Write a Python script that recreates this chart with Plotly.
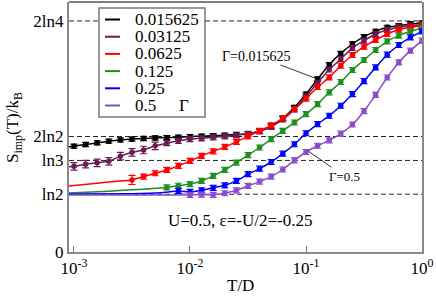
import plotly.graph_objects as go
import math

# ---------------- data ----------------
# marker grid: log10(T/D)
logT = [-3.0, -2.9, -2.8, -2.7, -2.6, -2.5, -2.4, -2.3, -2.2, -2.1, -2.0,
        -1.9, -1.8, -1.7, -1.6, -1.5, -1.4, -1.3, -1.2, -1.1, -1.0,
        -0.9, -0.8, -0.7, -0.6, -0.5, -0.4, -0.3, -0.2, -0.1, 0.0]

gamma_labels = ["0.015625", "0.03125", "0.0625", "0.125", "0.25", "0.5"]
colors = ["#000000", "#6b1a55", "#ff0000", "#1f8f1f", "#0000ff", "#8a4cc8"]

S_g0015625 = [1.27, 1.29, 1.31, 1.33, 1.345, 1.355, 1.362, 1.368, 1.373, 1.377, 1.385,
              1.39, 1.396, 1.402, 1.41, 1.42, 1.45, 1.51, 1.605, 1.734, 1.895,
              2.076, 2.248, 2.383, 2.496, 2.584, 2.648, 2.696, 2.716, 2.737, 2.749]
S_g003125 = [1.028, 1.054, 1.07, 1.088, 1.15, 1.196, 1.224, 1.274, 1.306, 1.334, 1.355,
             1.364, 1.376, 1.388, 1.4, 1.418, 1.448, 1.502, 1.59, 1.71, 1.863,
             2.03, 2.19, 2.316, 2.45, 2.536, 2.616, 2.664, 2.696, 2.716, 2.728]
S_g00625 = [None, None, None, None, None, 0.865, 0.905, 0.945, 0.985, 1.033, 1.093,
            1.154, 1.208, 1.262, 1.322, 1.388, 1.454, 1.52, 1.605, 1.713, 1.84,
            1.98, 2.095, 2.236, 2.364, 2.464, 2.544, 2.616, 2.668, 2.696, 2.716]
S_g0125 = [None, None, None, None, None, None, None, None, 0.775, 0.795, 0.815,
           0.853, 0.913, 0.986, 1.073, 1.162, 1.254, 1.355, 1.454, 1.554, 1.655,
           1.775, 1.915, 2.04, 2.184, 2.304, 2.424, 2.528, 2.596, 2.648, 2.688]
S_g025 = [None, None, None, None, None, None, None, None, None, 0.733, 0.721,
          0.74, 0.77, 0.80, 0.853, 0.934, 1.0, 1.08, 1.18, 1.293, 1.425,
          1.535, 1.635, 1.755, 1.895, 2.05, 2.215, 2.368, 2.484, 2.576, 2.648]
S_g05 = [None, None, None, None, None, None, None, None, None, None, 0.686,
         0.688, 0.686, 0.705, 0.74, 0.793, 0.845, 0.905, 0.99, 1.10, 1.20,
         1.275, 1.34, 1.42, 1.53, 1.69, 1.885, 2.094, 2.275, 2.416, 2.536]

# error bar half-heights
err_g0015625 = [0.025] * 31
err_g003125 = [0.045] * 8 + [0.03] * 23
err_g00625 = [None] * 5 + [0.055] + [0.03] * 25
err_g0125 = [None] * 8 + [0.03] * 23
err_g025 = [None] * 9 + [0.03] * 22
err_g05 = [None] * 10 + [0.03] * 21

# smooth curves extend to the left edge of the window
left_logT = {
    0: [-3.05],
    1: [-3.05],
    2: [-3.05, -2.8, -2.65],
    3: [-3.05, -2.7, -2.45],
    4: [-3.05, -2.5, -2.25],
    5: [-3.05, -2.5, -2.2],
}
left_S = {
    0: [1.262],
    1: [1.022],
    2: [0.79, 0.825, 0.847],
    3: [0.709, 0.73, 0.75],
    4: [0.697, 0.70, 0.712],
    5: [0.684, 0.684, 0.685],
}

series_S = [S_g0015625, S_g003125, S_g00625, S_g0125, S_g025, S_g05]
series_err = [err_g0015625, err_g003125, err_g00625, err_g0125, err_g025, err_g05]

ref_vals = [math.log(2), math.log(3), 2 * math.log(2), 2 * math.log(4)]
ytick_vals = [0, math.log(2), math.log(3), 2 * math.log(2), 2 * math.log(4)]
ytick_text = ["0", "ln2", "ln3", "2ln2", "2ln4"]
xtick_vals = [1e-3, 1e-2, 1e-1, 1]
xtick_text = ["10<sup>-3</sup>", "10<sup>-2</sup>", "10<sup>-1</sup>", "10<sup>0</sup>"]

# ---------------- figure ----------------
W, H = 436, 298
L, R, T, B = 69, 14, 2, 46
PW, PH = W - L - R, H - T - B
FONT = "Liberation Serif"


def px2paper(x, y):
    return (x - L) / PW, (H - B - y) / PH


fig = go.Figure()

for i, (S, err) in enumerate(zip(series_S, series_err)):
    xs = [10 ** v for v, s in zip(logT, S) if s is not None]
    ys = [s for s in S if s is not None]
    es = [e for e, s in zip(err, S) if s is not None]
    lx = [10 ** v for v in left_logT[i]] + xs
    ly = left_S[i] + ys
    fig.add_trace(go.Scatter(x=lx, y=ly, mode="lines",
                             line=dict(color=colors[i], width=1.5, shape="spline", smoothing=0.5),
                             showlegend=False, hoverinfo="skip"))
    fig.add_trace(go.Scatter(x=xs, y=ys, mode="markers",
                             marker=dict(color=colors[i], size=5.5),
                             error_y=dict(type="data", array=es, color=colors[i],
                                          thickness=1.2, width=3.5),
                             showlegend=False, name=gamma_labels[i]))

shapes = []
for v in ref_vals:
    shapes.append(dict(type="line", xref="paper", x0=0, x1=1, yref="y", y0=v, y1=v,
                       line=dict(color="#222222", width=1, dash="5px,3px"), layer="below"))
# top frame line
shapes.append(dict(type="line", xref="paper", x0=0, x1=1, yref="paper", y0=1, y1=1,
                   line=dict(color="#000000", width=1)))

# legend box (manual to match compact row spacing)
bx0, by0 = px2paper(99, 117)
bx1, by1 = px2paper(205, 8)
shapes.append(dict(type="rect", xref="paper", yref="paper", x0=bx0, x1=bx1, y0=by0, y1=by1,
                   line=dict(color="#777777", width=1.5), fillcolor="white", layer="above"))
annotations = []
for k, (lab, c) in enumerate(zip(gamma_labels, colors)):
    yy = 19.5 + 17.2 * k
    x0p, yp = px2paper(105, yy)
    x1p, _ = px2paper(120, yy)
    shapes.append(dict(type="line", xref="paper", yref="paper", x0=x0p, x1=x1p, y0=yp, y1=yp,
                       line=dict(color=c, width=2), layer="above"))
    tx, _ = px2paper(133, yy)
    annotations.append(dict(text=lab, xref="paper", yref="paper", x=tx, y=yp,
                            xanchor="left", yanchor="middle", showarrow=False,
                            font=dict(family=FONT, size=17, color="black")))
gx, gy = px2paper(184, 19.5 + 17.2 * 5)
annotations.append(dict(text="Γ", xref="paper", yref="paper", x=gx, y=gy,
                        xanchor="center", yanchor="middle", showarrow=False,
                        font=dict(family=FONT, size=17, color="black")))

# curve labels
annotations.append(dict(text="Γ=0.015625", x=-0.9, y=2.076, xref="x", yref="y",
                        showarrow=True, arrowhead=0, arrowwidth=0.8, arrowcolor="black",
                        ax=-61, ay=-23, font=dict(family=FONT, size=14, color="black")))
annotations.append(dict(text="Γ=0.5", x=-0.98, y=1.21, xref="x", yref="y",
                        showarrow=True, arrowhead=0, arrowwidth=0.8, arrowcolor="black",
                        ax=36, ay=25, font=dict(family=FONT, size=13, color="black")))
ux, uy = px2paper(240, 220)
annotations.append(dict(text="U=0.5, ε=-U/2=-0.25", xref="paper", yref="paper", x=ux, y=uy,
                        xanchor="center", yanchor="middle",
                        showarrow=False, font=dict(family=FONT, size=17, color="black")))
# axis titles
tx_, ty_ = px2paper(240, 285)
annotations.append(dict(text="T/D", xref="paper", yref="paper", x=tx_, y=ty_,
                        xanchor="center", yanchor="middle",
                        showarrow=False, font=dict(family=FONT, size=17, color="black")))
sx, sy = px2paper(14, 128)
annotations.append(dict(text="S<sub>imp</sub>(T)/k<sub>B</sub>", xref="paper", yref="paper",
                        x=sx, y=sy, textangle=-90, xanchor="center", yanchor="middle",
                        showarrow=False,
                        font=dict(family=FONT, size=17, color="black")))

fig.update_layout(
    width=W, height=H,
    margin=dict(l=L, r=R, t=T, b=B),
    paper_bgcolor="white", plot_bgcolor="white",
    shapes=shapes, annotations=annotations,
    showlegend=False,
    xaxis=dict(type="log", range=[-3.043, 0.0], tickvals=xtick_vals, ticktext=xtick_text,
               ticks="inside", ticklen=6, tickcolor="#777777", tickwidth=1,
               showline=True, linecolor="#888888", linewidth=2, mirror=False,
               showgrid=False, zeroline=False,
               tickfont=dict(family=FONT, size=17, color="black")),
    yaxis=dict(range=[0, 3.0], tickvals=ytick_vals, ticktext=ytick_text,
               ticks="", showline=True, linecolor="#888888", linewidth=2, mirror=True,
               showgrid=False, zeroline=False,
               tickfont=dict(family=FONT, size=17, color="black")),
)

fig.write_html("out.html", config={"displayModeBar": False},
               post_script="document.body.style.margin='0';document.body.style.overflow='hidden';")
